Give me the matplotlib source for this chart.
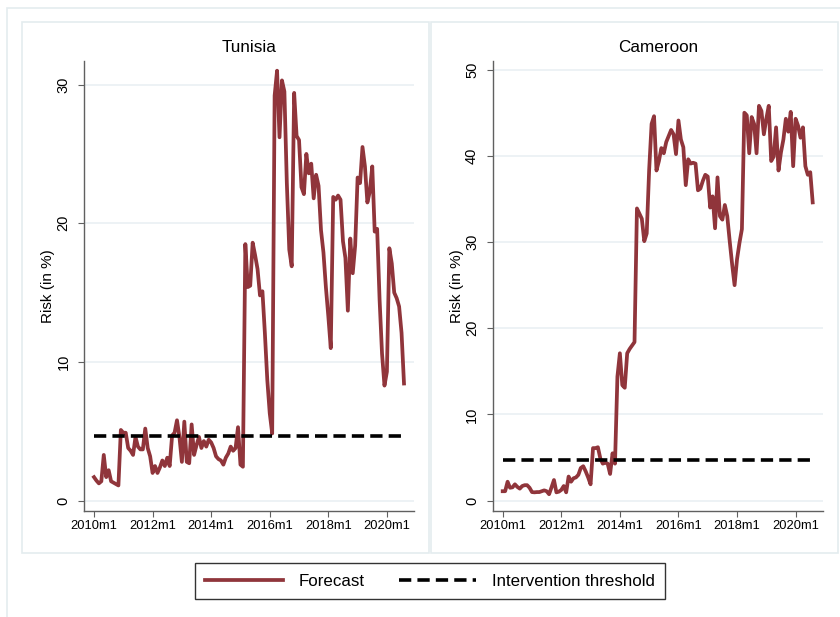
import numpy as np
import matplotlib.pyplot as plt
from matplotlib.patches import Rectangle
from matplotlib.lines import Line2D

plt.rcParams['font.family'] = ['Liberation Sans', 'DejaVu Sans']

# ============================================================
# DATA (monthly, 2010m1 .. 2020m8)
# ============================================================

month_index = np.arange(128)
tick_months = [0, 24, 48, 72, 96, 120]
tick_labels = ['2010m1', '2012m1', '2014m1', '2016m1', '2018m1', '2020m1']
threshold = 4.7

tunisia = [1.7, 1.45, 1.25, 1.4, 3.3, 1.7, 2.2, 1.4, 1.3, 1.2,
           1.1, 5.1, 4.9, 4.9, 3.8, 3.6, 3.3, 4.6, 3.9, 3.7,
           3.7, 5.2, 3.8, 3.2, 2.0, 2.5, 2.0, 2.4, 2.9, 2.5,
           3.1, 2.5, 4.7, 4.9, 5.8, 4.6, 2.8, 5.7, 2.8, 2.7,
           5.5, 3.3, 4.0, 4.6, 3.8, 4.3, 3.9, 4.4, 4.2, 3.8,
           3.2, 3.0, 2.9, 2.6, 3.1, 3.4, 3.9, 3.6, 3.8, 5.3,
           2.6, 2.45, 18.5, 15.4, 15.5, 18.6, 17.7, 16.7, 14.8, 15.1,
           12.1, 8.7, 6.3, 4.85, 29.2, 31.0, 26.2, 30.3, 29.5, 22.9,
           18.1, 16.9, 29.4, 26.3, 26.0, 22.6, 22.1, 25.0, 23.6, 24.3,
           21.8, 23.5, 22.7, 19.5, 17.9, 15.4, 13.3, 11.0, 21.9, 21.7,
           22.0, 21.7, 18.7, 17.5, 13.7, 18.9, 16.4, 18.4, 23.3, 22.9,
           25.5, 24.1, 21.5, 22.3, 24.1, 19.4, 19.6, 14.5, 10.6, 8.3,
           9.3, 18.2, 17.1, 15.0, 14.6, 14.0, 12.1, 8.45]

cameroon = [1.1, 1.1, 2.2, 1.5, 1.55, 1.9, 1.6, 1.4, 1.7, 1.8,
            1.8, 1.5, 1.0, 0.97, 1.0, 1.0, 1.1, 1.2, 1.1, 0.75,
            1.55, 2.4, 0.97, 1.05, 1.25, 1.7, 0.97, 2.8, 2.2, 2.6,
            2.7, 3.0, 3.8, 4.0, 3.4, 2.7, 1.9, 6.1, 6.1, 6.2,
            4.9, 4.3, 4.4, 4.3, 3.1, 5.5, 4.3, 14.4, 17.1, 13.4,
            13.1, 17.1, 17.6, 18.0, 18.4, 33.9, 33.3, 32.7, 30.1, 31.0,
            38.4, 43.7, 44.6, 38.3, 39.4, 40.9, 40.3, 41.6, 42.3, 43.0,
            42.5, 40.2, 44.1, 41.9, 41.0, 36.6, 39.6, 39.1, 39.2, 39.1,
            36.0, 36.2, 37.1, 37.8, 37.6, 34.0, 35.3, 31.6, 37.5, 33.0,
            32.6, 34.3, 33.0, 30.1, 27.4, 25.0, 28.0, 29.9, 31.5, 45.0,
            44.7, 40.3, 44.5, 43.7, 40.3, 45.8, 45.2, 42.5, 44.3, 45.8,
            39.4, 39.9, 43.3, 38.3, 40.4, 41.9, 44.3, 42.8, 45.1, 38.8,
            44.3, 43.5, 42.1, 43.3, 38.8, 37.8, 38.1, 34.6]

# ============================================================
# STYLE
# ============================================================

W, H = 840, 617
red = '#90353B'
frame_col = '#E4ECEF'
grid_col = '#E8EFF2'
axis_col = '#606060'


def px_rect(x0, y0, x1, y1):
    # pixel box (top-left origin) -> figure fraction [left, bottom, w, h]
    return [x0 / W, 1 - y1 / H, (x1 - x0) / W, (y1 - y0) / H]


fig = plt.figure(figsize=(W / 100, H / 100), dpi=100)
fig.patch.set_facecolor('white')

# graph region frames
for box in [(7, 8, 860, 640), (21.5, 21.7, 429.5, 553), (431.5, 21.7, 838, 553)]:
    l, b, w, h = px_rect(*box)
    fig.add_artist(Rectangle((l, b), w, h, transform=fig.transFigure,
                             fill=False, edgecolor=frame_col, lw=1.2))


def draw_panel(ax, values, title, yticks, ylim):
    ax.plot(month_index, values, color=red, lw=2.7, solid_joinstyle='round', zorder=3)
    ax.hlines(threshold, month_index[0], month_index[-1], colors='black',
              lw=2.6, linestyles=(0, (3.4, 1.7)), zorder=4)
    ax.set_xlim(-4.1, 131.1)
    ax.set_ylim(*ylim)
    ax.set_xticks(tick_months)
    ax.set_xticklabels(tick_labels)
    ax.set_yticks(yticks)
    ax.yaxis.grid(True, color=grid_col, lw=1.1)
    ax.set_axisbelow(True)
    for side in ['top', 'right']:
        ax.spines[side].set_visible(False)
    for side in ['left', 'bottom']:
        ax.spines[side].set_color(axis_col)
        ax.spines[side].set_linewidth(1.0)
    ax.tick_params(direction='out', length=4.3, width=0.8, color=axis_col)
    ax.tick_params(axis='x', labelsize=9.3, pad=2.5)
    ax.tick_params(axis='y', labelsize=10.5, pad=5.5, labelrotation=90)
    for lab in ax.get_yticklabels():
        lab.set_va('center')
    ax.text(0.5, 1 + 14 / 449.7, title, transform=ax.transAxes,
            ha='center', va='center', fontsize=12.3)
    ax.text(-36 / 330, 0.5, 'Risk (in %)', transform=ax.transAxes,
            rotation=90, ha='center', va='center', fontsize=11)


ax1 = fig.add_axes(px_rect(84, 61, 414, 510.7))
draw_panel(ax1, tunisia, 'Tunisia', [0, 10, 20, 30], (-0.72, 31.7))

ax2 = fig.add_axes(px_rect(492.7, 61, 822.7, 510.7))
draw_panel(ax2, cameroon, 'Cameroon', [0, 10, 20, 30, 40, 50], (-1.16, 51.0))

# legend
handles = [Line2D([], [], color=red, lw=2.7),
           Line2D([], [], color='black', lw=2.6, ls=(0, (3.4, 1.7)))]
leg = fig.legend(handles, ['Forecast', 'Intervention threshold'],
                 loc='center', bbox_to_anchor=(430 / W, 1 - 581 / H), ncol=2,
                 frameon=True, fancybox=False, edgecolor='black', fontsize=12.2,
                 handlelength=4.6, handletextpad=0.9, columnspacing=2.0,
                 borderpad=0.6)
leg.get_frame().set_linewidth(1.0)

fig.savefig('out.png', dpi=100)
